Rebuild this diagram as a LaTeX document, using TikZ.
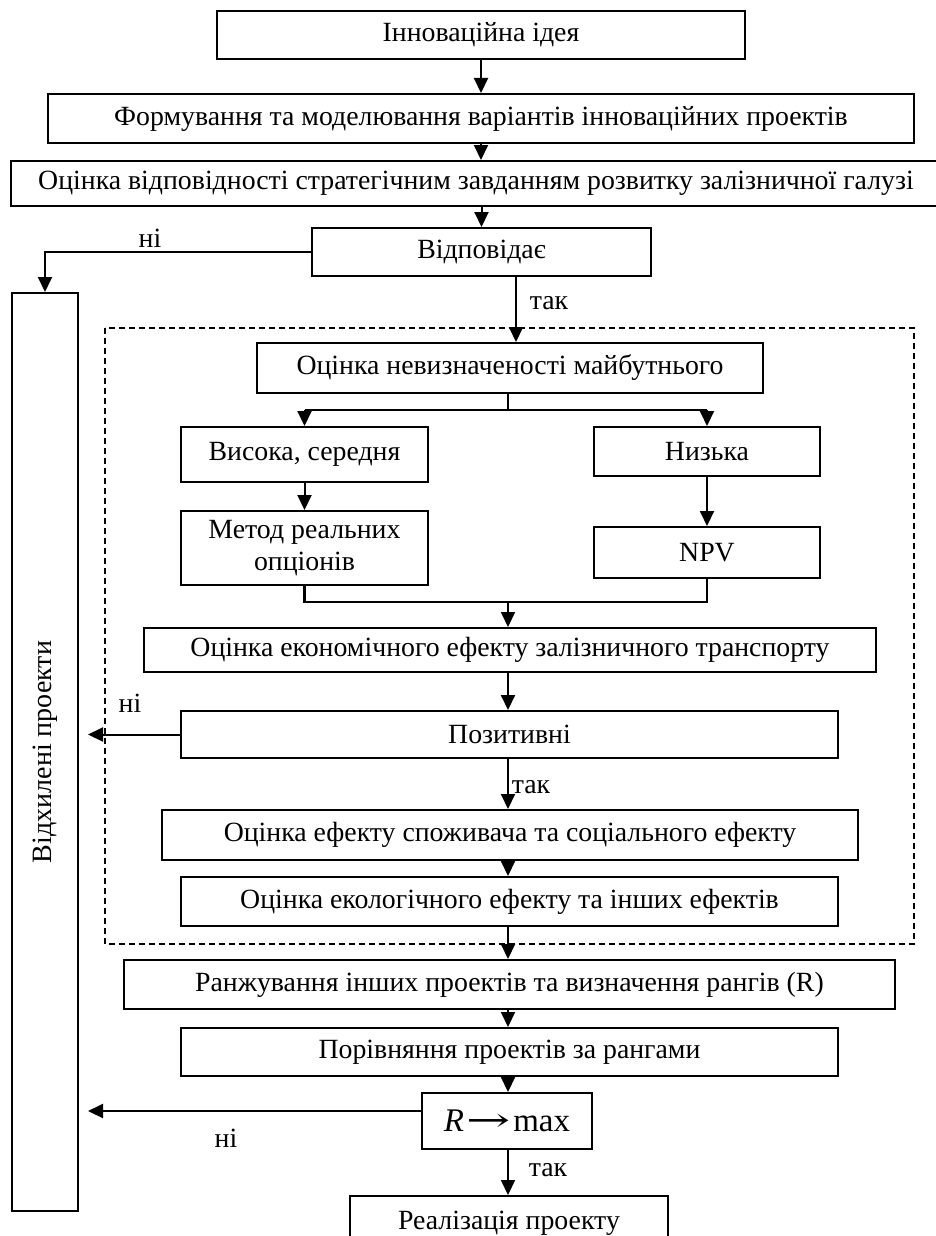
\documentclass[tikz,border=0pt]{standalone}
\usepackage{fontspec}
\setmainfont{Liberation Serif}
\newfontfamily\arrfont{DejaVu Serif}[FakeStretch=1.6]
\usetikzlibrary{arrows.meta}
\begin{document}
\begin{tikzpicture}[x=1pt,y=-1pt,
  box/.style={draw,line width=2pt,inner sep=0pt,align=center,font=\fontsize{27.8}{32}\selectfont},
  arr/.style={line width=2pt,-{Triangle[length=15pt,width=14pt]}},
  ln/.style={line width=2pt},
  lbl/.style={inner sep=0pt,font=\fontsize{27.8}{32}\selectfont}]
\useasboundingbox (0,0) rectangle (936,1236);
\clip (0,0) rectangle (936,1236);
\fill[white] (0,0) rectangle (936,1236);
% dashed frame
\draw[line width=1.6pt,dash pattern=on 6pt off 4pt] (105,328) rectangle (914,944);
% boxes
\node[box,minimum width=528pt,minimum height=48pt] (idea) at (481,35) {Інноваційна ідея};
\node[box,minimum width=866pt,minimum height=49pt] (form) at (481,118.5) {Формування та моделювання варіантів інноваційних проектів};
\node[box,minimum width=930pt,minimum height=45pt] (vidp) at (476,183.5) {Оцінка відповідності стратегічним завданням розвитку залізничної галузі};
\node[box,minimum width=339pt,minimum height=48pt] (vidpov) at (481.5,252) {Відповідає};
\node[box,minimum width=506pt,minimum height=50pt] (nevyzn) at (510,368) {Оцінка невизначеності майбутнього};
\node[box,minimum width=247pt,minimum height=55pt] (vysoka) at (304.5,454.5) {Висока, середня};
\node[box,minimum width=226pt,minimum height=49pt] (nyzka) at (707,451.5) {Низька};
\node[box,minimum width=247pt,minimum height=74pt] (metod) at (304.5,548) {Метод реальних\\опціонів};
\node[box,minimum width=226pt,minimum height=51pt] (npv) at (707,552.5) {NPV};
\node[box,minimum width=732pt,minimum height=44pt] (econ) at (510,650) {Оцінка економічного ефекту залізничного транспорту};
\node[box,minimum width=657pt,minimum height=47pt] (pozyt) at (509.5,734.5) {Позитивні};
\node[box,minimum width=696pt,minimum height=50pt] (consum) at (510,835) {Оцінка ефекту споживача та соціального ефекту};
\node[box,minimum width=657pt,minimum height=49pt] (ecol) at (509.5,901.5) {Оцінка екологічного ефекту та інших ефектів};
\node[box,minimum width=771pt,minimum height=49pt] (ranzh) at (509.5,984.5) {Ранжування інших проектів та визначення рангів (R)};
\node[box,minimum width=657pt,minimum height=48pt] (porivn) at (509.5,1052) {Порівняння проектів за рангами};
\node[box,minimum width=170pt,minimum height=56pt,font=\fontsize{33}{40}\selectfont] (rmax) at (507,1121) {\textit{R}\kern2pt{\arrfont →}\kern3pt max};
\node[box,minimum width=318pt,minimum height=54pt] (realiz) at (509,1223) {Реалізація проекту};
\node[box,minimum width=66pt,minimum height=918pt] (rej) at (45,752) {};
\node[inner sep=0pt,rotate=90,font=\fontsize{28}{32}\selectfont] (rejt) at (rej.center) {Відхилені проекти};
% connectors
\draw[arr] (idea.south) -- (idea.south |- form.north);
\draw[arr] (form.south) -- (form.south |- vidp.north);
\draw[arr] (vidpov.north |- vidp.south) -- (vidpov.north);
\coordinate (yes1) at (516,276);
\draw[arr] (yes1) -- (yes1 |- nevyzn.north);
\draw[arr] (vidpov.west) -| (rej.north);
\coordinate (sp) at (508,410);
\draw[ln] (nevyzn.south -| sp) -- (sp);
\draw[line width=2.6pt] (vysoka.north |- sp) -- (nyzka.north |- sp);
\draw[arr] (vysoka.north |- sp) -- (vysoka.north);
\draw[arr] (nyzka.north |- sp) -- (nyzka.north);
\draw[arr] (vysoka.south) -- (vysoka.south |- metod.north);
\draw[arr] (nyzka.south) -- (nyzka.south |- npv.north);
\coordinate (mg) at (508,602);
\draw[line width=2.6pt] (metod.south) -- (metod.south |- mg) -- (npv.south |- mg) -- (npv.south);
\draw[arr] (mg) -- (mg |- econ.north);
\draw[arr] (econ.south -| mg) -- (mg |- pozyt.north);
\draw[arr,shorten >=9pt] (pozyt.west) -- (pozyt.west -| rej.east);
\draw[arr] (pozyt.south -| mg) -- (mg |- consum.north);
\draw[arr] (consum.south -| mg) -- (mg |- ecol.north);
\draw[arr] (ecol.south -| mg) -- (mg |- ranzh.north);
\draw[arr] (ranzh.south -| mg) -- (mg |- porivn.north);
\draw[arr] (porivn.south -| mg) -- (mg |- rmax.north);
\draw[arr,shorten >=9pt] ([yshift=10pt]rmax.west) -- ([yshift=10pt]rmax.west -| rej.east);
\draw[arr] (rmax.south -| mg) -- (mg |- realiz.north);
% labels
\node[lbl] (no1) at (150,238) {ні};
\node[lbl] (yesl1) at (549,303) {так};
\node[lbl] (no2) at (130,703) {ні};
\node[lbl] (yesl2) at (531,787) {так};
\node[lbl] (no3) at (226,1138) {ні};
\node[lbl] (yesl3) at (548,1170) {так};
\end{tikzpicture}
\end{document}
